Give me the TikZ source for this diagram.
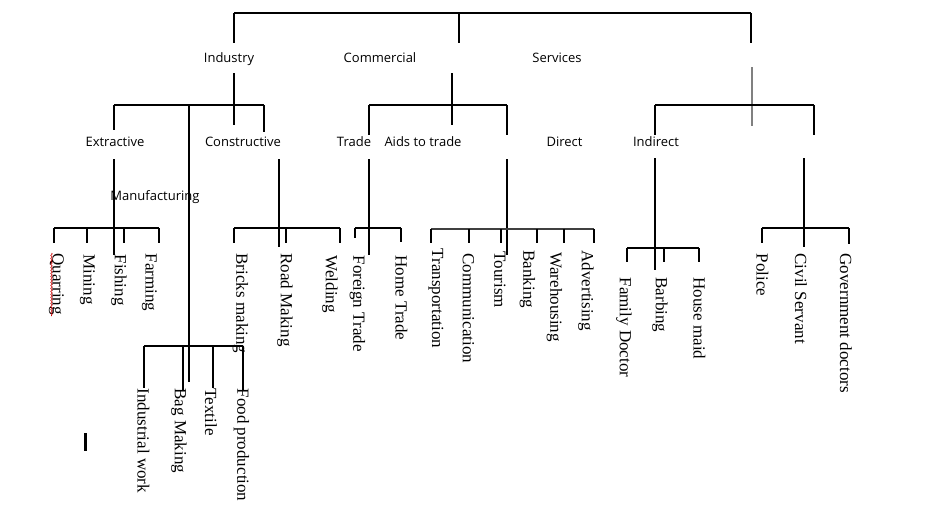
\documentclass[tikz,border=0pt]{standalone}
\usepackage{fontspec}
\setmainfont{Liberation Serif}
\newfontfamily\headfont{Open Sans}
\usetikzlibrary{decorations.pathmorphing}

\tikzset{
  head/.style={font=\headfont\fontsize{13}{15}\selectfont, anchor=base, inner sep=0pt},
  leaf/.style={font=\fontsize{17}{19}\selectfont, rotate=-90, anchor=west, inner sep=0pt},
  tick/.style={line width=1.2pt},
}

\begin{document}
\begin{tikzpicture}[x=1pt,y=-1pt,line width=1.2pt]
\useasboundingbox (0,0) rectangle (935,504);

% headings
\node[head] (ind) at (229,62) {Industry};
\node[head] (com) at (380,62) {Commercial};
\node[head] (ser) at (557,62) {Services};
\node[head] (ext) at (115,146) {Extractive};
\node[head] (con) at (243,146) {Constructive};
\node[head] (trd) at (354,146) {Trade};
\node[head] (aid) at (423,146) {Aids to trade};
\node[head] (dir) at (564.5,146) {Direct};
\node[head] (indi) at (656,146) {Indirect};
\node[head] (man) at (155,200) {Manufacturing};

% leaves
\foreach \n/\x/\y/\t in {
  qua/56.5/253/Quarring, min/87.5/254/Mining, fis/119/254/Fishing, far/149.5/253/Farming,
  bri/240.5/253/Bricks making, roa/285/253/Road Making, wel/330/255/Welding,
  frt/357.5/255/Foreign Trade, hot/401.5/255/Home Trade,
  trn/436/248/Transportation, cmm/468.5/253/Communication, tou/500/251/Tourism,
  ban/527.5/250/Banking, war/554.5/252/Warehousing, adv/586/250/Advertising,
  fam/624/277/Family Doctor, brb/660/277/Barbing, hom/699.5/277/House maid,
  pol/762.5/253/Police, civ/801/253/Civil Servant, gov/846/253/Government doctors,
  inw/143.5/388/Industrial work, bag/179/388/Bag Making, tex/211/388/Textile,
  foo/241.5/388/Food production}
  \node[leaf] (\n) at (\x,\y) {\t};

% top bar
\coordinate (r1) at (234,13);
\coordinate (r2) at (459,13);
\coordinate (r3) at (751,13);
\draw (r1) -- (r3);
\draw (r1) -- ++(0,30) (r2) -- ++(0,30) (r3) -- ++(0,30);

% Industry
\coordinate (ib1) at (114,105);
\coordinate (ib2) at (264,105);
\draw (234,73) -- (234,125);
\draw (ib1) -- (ib2);
\draw (ib1) -- ++(0,25) (ib2) -- ++(0,27);
\draw (189,105) -- (189,382);

% Commercial
\coordinate (cb1) at (369,105);
\coordinate (cb2) at (507,105);
\draw (452,73) -- (452,125);
\draw (cb1) -- (cb2);
\draw (cb1) -- ++(0,30) (cb2) -- ++(0,30);

% Services
\coordinate (sb1) at (655,105);
\coordinate (sb2) at (814,105);
\draw[gray,line width=1.6pt] (752,67) -- (752,126);
\draw (sb1) -- (sb2);
\draw (sb1) -- ++(0,30) (sb2) -- ++(0,30);

% Extractive
\draw (114,159) -- (114,255);
\draw (54,228) -- (159,228);
\foreach \x in {54,87,124,159}
  \draw (\x,228) -- ++(0,15);

% Constructive
\draw (279,159) -- (279,247);
\draw (234,228) -- (340,228);
\foreach \x in {234,286,340}
  \draw (\x,228) -- ++(0,15);

% Trade
\draw (369,159) -- (369,255);
\draw (355,228) -- (401,228);
\draw (355,228) -- ++(0,10) (401,228) -- ++(0,14);

% Aids to trade
\draw (507,159) -- (507,255);
\draw[black!75] (431,229) -- (594,229);
\foreach \x in {431,469,501,537,564,594}
  \draw (\x,229) -- ++(0,14);

% Indirect
\draw (655,158) -- (655,270);
\draw (627,248) -- (699,248);
\foreach \x in {627,664,699}
  \draw (\x,248) -- ++(0,14);

% right branch
\draw (804,158) -- (804,247);
\draw (762,228) -- (849,228);
\draw (762,228) -- ++(0,15) (849,228) -- ++(0,16);

% Manufacturing
\draw (144,346) -- (243,346);
\draw (144,346) -- ++(0,42) (183,346) -- ++(0,44) (213,346) -- ++(0,42) (243,346) -- ++(0,44);

\draw[red!80!black,line width=0.6pt,decorate,decoration={snake,amplitude=0.8pt,segment length=3pt}] (51.5,253) -- (51.5,316);
\draw[line width=3pt] (85,433) -- (85,451);
\end{tikzpicture}
\end{document}
